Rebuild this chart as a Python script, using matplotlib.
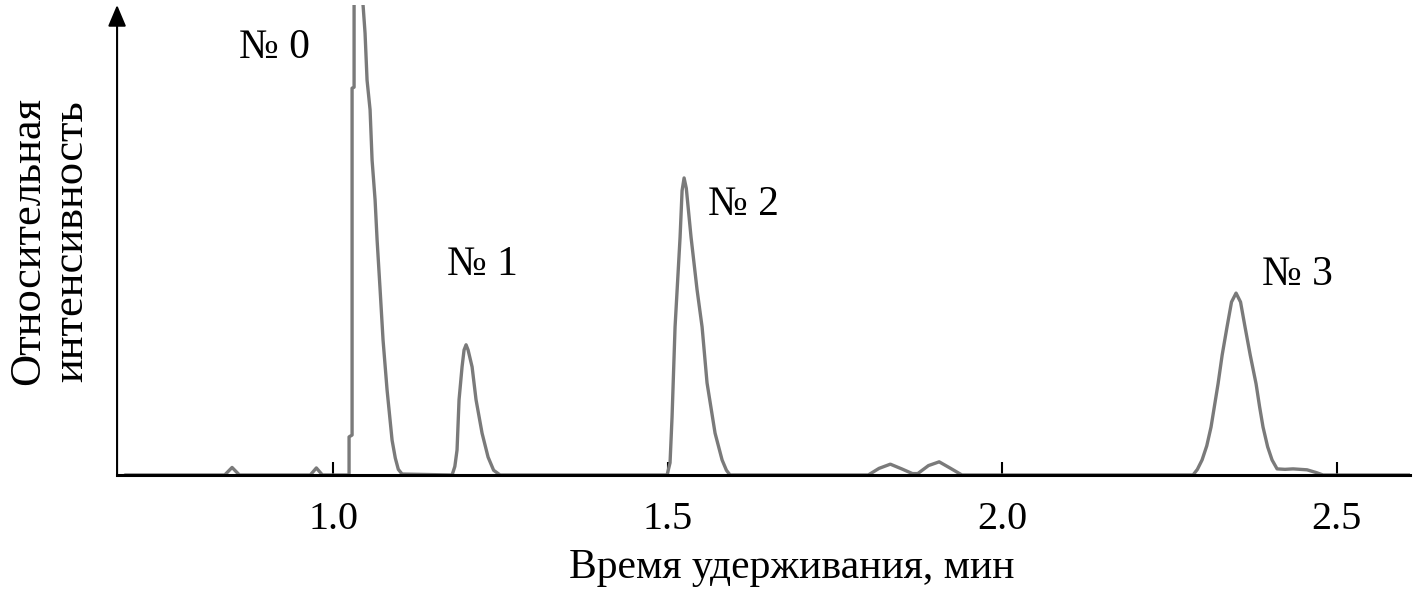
import numpy as np
import matplotlib
matplotlib.use("Agg")
import matplotlib.pyplot as plt

plt.rcParams["font.family"] = ["Liberation Serif", "DejaVu Serif"]

# chromatogram trace (time, min / relative intensity, %)
time = [
    0.689, 0.838, 0.849, 0.860, 0.966, 0.975, 0.984,
    1.0239, 1.0239, 1.0284, 1.0284, 1.0314, 1.0314, 1.038,
    1.0448, 1.0478, 1.0508, 1.0553, 1.0583, 1.0628, 1.0658, 1.0703,
    1.0747, 1.0807, 1.0882, 1.0930, 1.0975, 1.1031,
    1.1779, 1.1820, 1.1853, 1.1883, 1.1928, 1.1958, 1.1988, 1.2018, 1.2078,
    1.2137, 1.2227, 1.2317, 1.2400, 1.2496,
    1.4993, 1.5037, 1.5067, 1.5112, 1.5187, 1.5217, 1.5247, 1.5280, 1.5351,
    1.5441, 1.5516, 1.5590, 1.5710, 1.5815, 1.5880, 1.5934,
    1.800, 1.816, 1.833, 1.850, 1.866, 1.874, 1.890, 1.906, 1.922, 1.940,
    2.2855, 2.2920, 2.2990, 2.3060, 2.3124, 2.3229, 2.3290, 2.3363, 2.3430,
    2.3498, 2.3565, 2.3632, 2.3710, 2.3797, 2.3850, 2.3901, 2.3970,
    2.4036, 2.4111, 2.4230, 2.4350, 2.4559, 2.4700, 2.4798, 2.610,
]
intensity = [
    0.0, 0.0, 1.6, 0.0, 0.0, 1.5, 0.0,
    0.0, 8.1, 8.5, 82.3, 82.5, 100.0, 115.0,
    100.0, 94.0, 84.0, 77.7, 67.0, 58.5, 50.0, 39.4,
    28.7, 18.1, 7.4, 3.6, 1.2, 0.2,
    0.0, 1.8, 5.3, 16.0, 23.0, 26.6, 27.7, 26.6, 23.0,
    16.0, 8.9, 3.8, 1.0, 0.0,
    0.0, 2.6, 12.3, 31.5, 50.6, 60.5, 63.2, 61.0, 50.6,
    39.4, 31.5, 19.6, 8.9, 3.2, 1.0, 0.0,
    0.0, 1.4, 2.3, 1.3, 0.3, 0.3, 2.0, 2.8, 1.5, 0.0,
    0.0, 1.2, 3.2, 6.2, 10.2, 19.4, 25.5, 31.5, 36.8,
    38.7, 36.8, 31.5, 25.5, 19.4, 14.5, 10.2, 6.0,
    3.2, 1.3, 1.2, 1.3, 1.1, 0.5, 0.0, 0.0,
]

peak_names = ["№ 0", "№ 1", "№ 2", "№ 3"]
label_pos = [(0.912, 88.7), (1.224, 42.6), (1.614, 55.3), (2.441, 40.4)]

xticks = [1.0, 1.5, 2.0, 2.5]
xticklabels = ["1.0", "1.5", "2.0", "2.5"]

fig = plt.figure(figsize=(14.19, 5.91), dpi=100)
ax = fig.add_axes([0.0825, 0.1963, 0.9112, 0.7953])

ax.plot(time, intensity, color="#7a7a7a", lw=2.4,
        solid_joinstyle="round", solid_capstyle="round")

for name, (tx, ty) in zip(peak_names, label_pos):
    ax.text(tx, ty, name, fontsize=30, ha="center", va="baseline")

ax.set_xlim(0.6771, 2.6099)
ax.set_ylim(0, 100)

for s in ["top", "right", "left"]:
    ax.spines[s].set_visible(False)
ax.spines["bottom"].set_linewidth(2.2)

ax.annotate("", xy=(0, 1), xytext=(0, 0), xycoords="axes fraction",
            arrowprops=dict(arrowstyle="-|>,head_length=1.3,head_width=0.55",
                            lw=1.5, color="black", shrinkA=0, shrinkB=0,
                            mutation_scale=10),
            annotation_clip=False)

ax.set_yticks([])
ax.set_xticks(xticks)
ax.set_xticklabels(xticklabels)
ax.tick_params(axis="x", direction="in", length=9.5, width=1.5,
               labelsize=29, pad=19)

fig.text(792 / 1419, 1 - 568 / 591, "Время удерживания, мин",
         fontsize=30, ha="center", va="center")
fig.text(50 / 1419, 1 - 241 / 591, "Относительная\nинтенсивность",
         fontsize=32, ha="center", va="center", rotation=90,
         multialignment="center", linespacing=1.1)

fig.savefig("out.png", dpi=100)
